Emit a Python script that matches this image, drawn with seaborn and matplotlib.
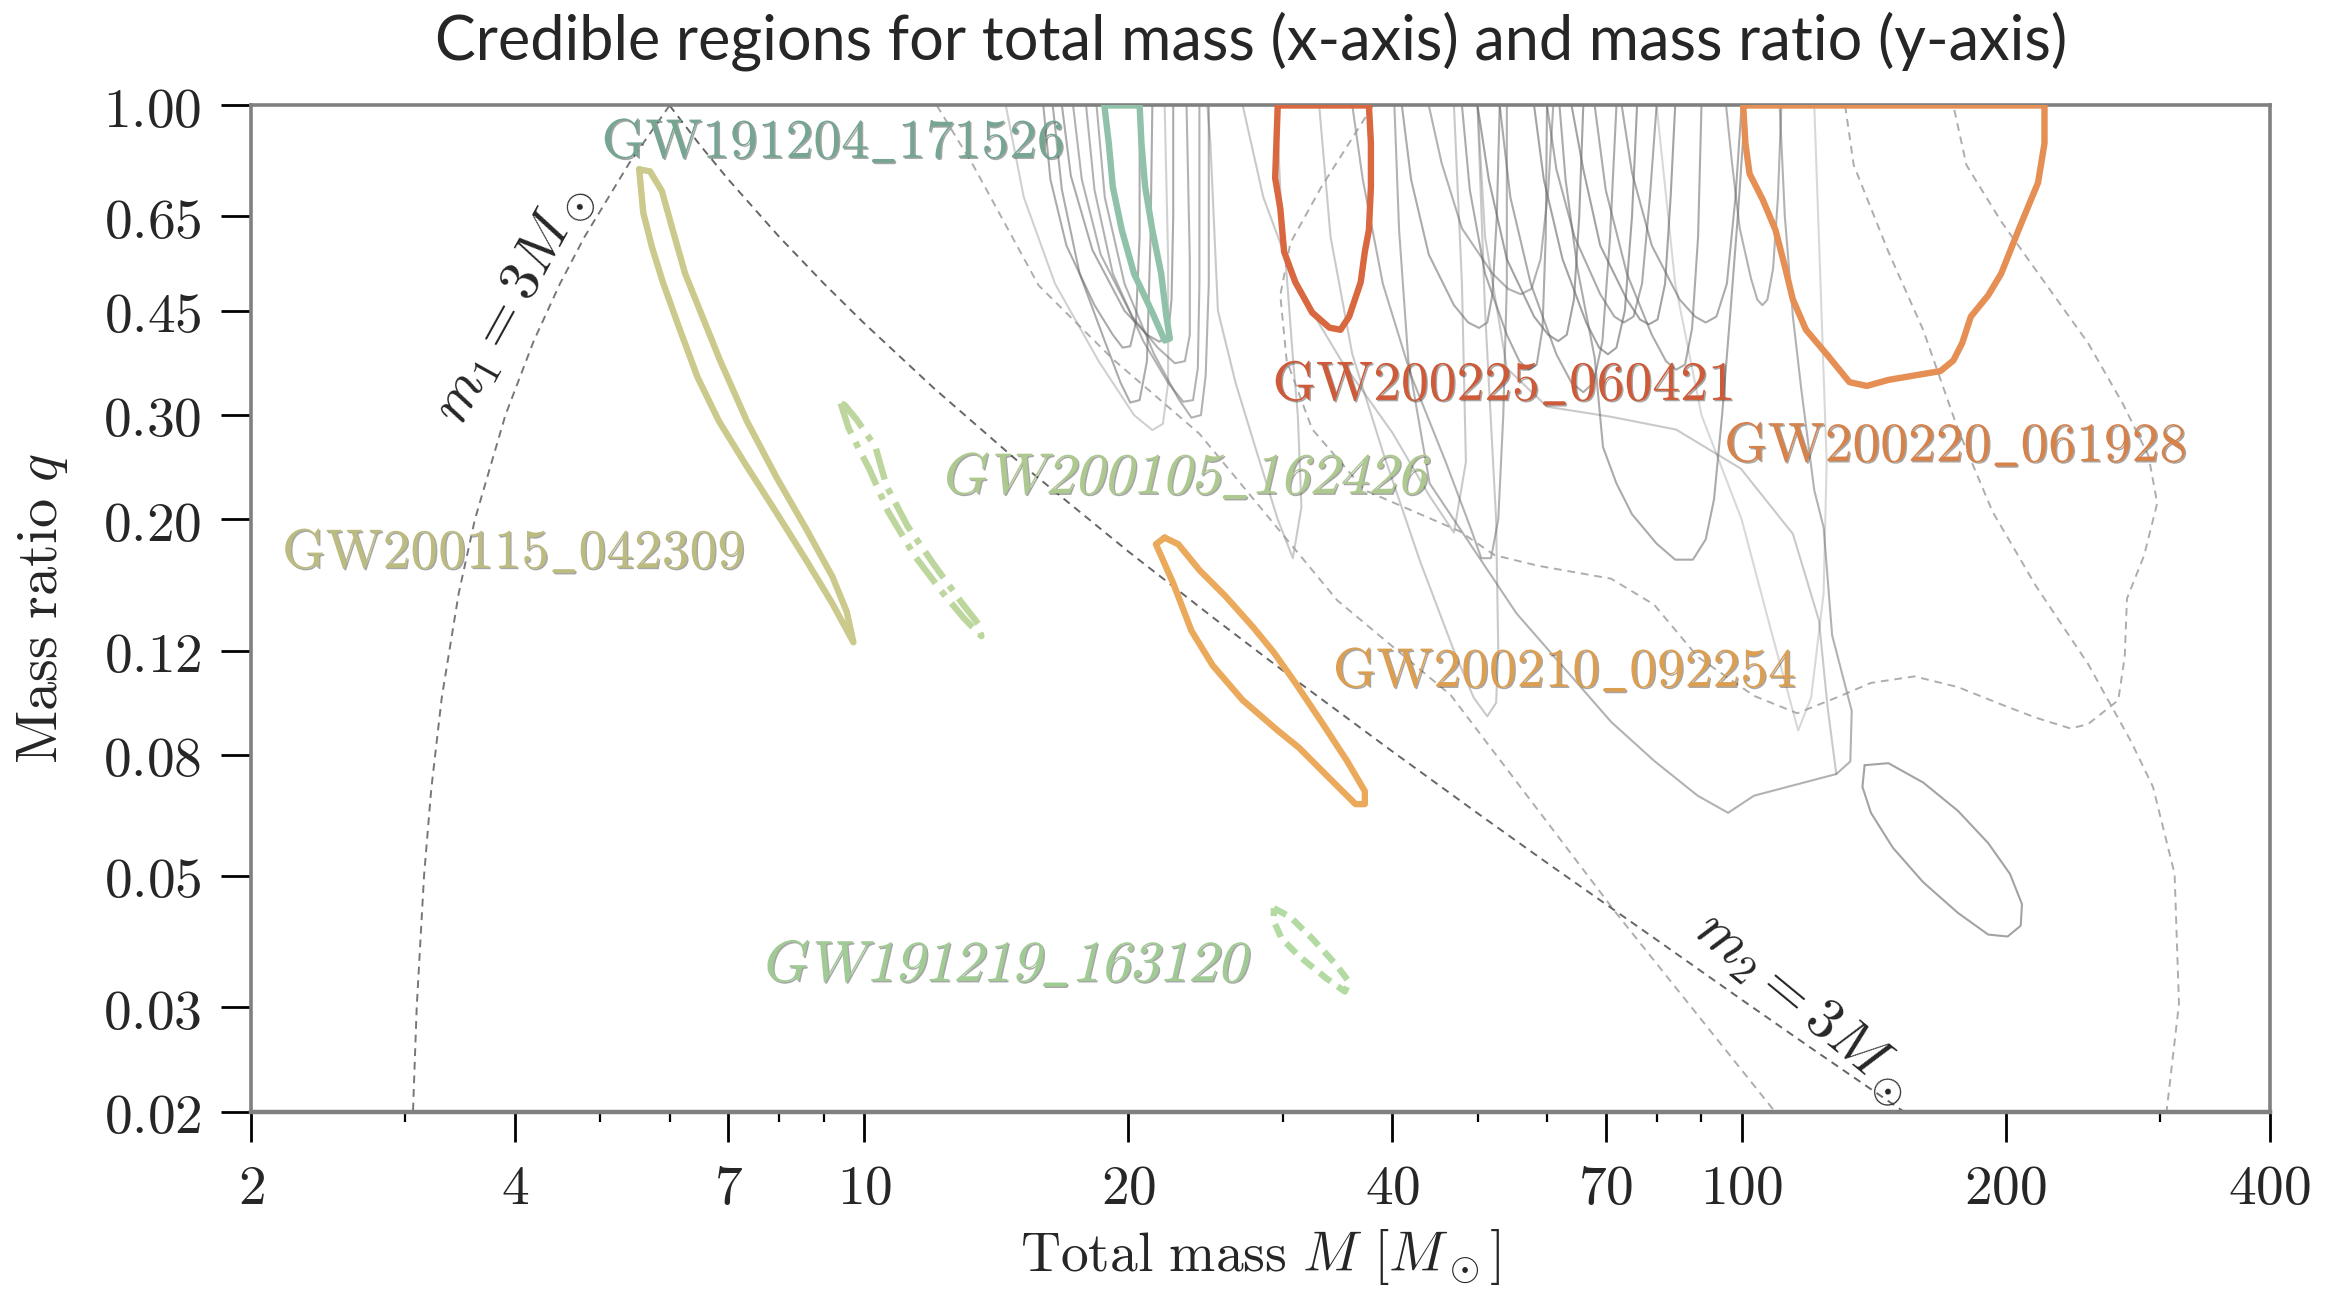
import matplotlib
matplotlib.use('Agg')
import matplotlib.pyplot as plt
import matplotlib.patheffects as pe
import matplotlib.transforms as mtransforms
from matplotlib.textpath import TextPath
from matplotlib.patches import PathPatch
from matplotlib.font_manager import FontProperties
from matplotlib.ticker import NullLocator
import seaborn as sns

# --- highlighted events: credible region outlines (total mass M, mass ratio q)
gw191204_M = [18.78, 19.0, 19.2, 19.66, 20.3, 21.3, 22.0, 22.3, 22.1, 21.8, 21.3, 20.9, 20.7, 20.6, 18.78]
gw191204_q = [1.0, 0.863, 0.729, 0.616, 0.520, 0.447, 0.401, 0.404, 0.440, 0.520, 0.616, 0.729, 0.863, 1.0, 1.0]

gw200115_M = [5.54, 5.60, 5.73, 5.895, 6.14, 6.46, 6.83, 7.32, 7.93, 8.58, 9.19, 9.72,
              9.55, 9.2, 8.6, 7.95, 7.35, 6.85, 6.45, 6.25, 6.05, 5.88, 5.7, 5.54]
gw200115_q = [0.780, 0.659, 0.576, 0.503, 0.425, 0.347, 0.293, 0.248, 0.206, 0.171, 0.1445, 0.124,
              0.1397, 0.160, 0.192, 0.235, 0.293, 0.371, 0.463, 0.520, 0.616, 0.717, 0.774, 0.780]

gw200105_M = [9.40, 9.6, 9.9, 10.13, 10.65, 11.4, 12.3, 13.0, 13.6, 13.5, 12.9, 12.0, 11.2, 10.6, 10.3, 9.8, 9.5, 9.40]
gw200105_q = [0.314, 0.285, 0.26, 0.2436, 0.206, 0.174, 0.150, 0.136, 0.127, 0.133, 0.145, 0.168, 0.195, 0.228, 0.265, 0.295, 0.312, 0.314]

gw191219_M = [29.3, 30.6, 32.4, 34.5, 35.7, 35.3, 33.6, 31.3, 29.9, 29.3, 29.3]
gw191219_q = [0.0441, 0.0426, 0.0392, 0.0354, 0.0331, 0.0319, 0.0336, 0.0366, 0.0392, 0.0419, 0.0441]

gw200210_M = [22.0, 21.5, 22.5, 23.6, 24.96, 27.0, 29.6, 31.3, 33.9, 36.3, 37.2, 37.2, 35.5, 33.2, 31.0, 29.3, 27.7, 25.8, 24.1, 22.8, 22.0]
gw200210_q = [0.1863, 0.1816, 0.156, 0.1297, 0.1133, 0.099, 0.088, 0.0823, 0.0731, 0.0661, 0.0661, 0.0695, 0.0782, 0.091, 0.1059, 0.1192, 0.1319, 0.1484, 0.1642, 0.1816, 0.1863]

gw200225_M = [29.6, 29.4, 29.8, 30.1, 31.0, 32.4, 33.9, 34.9, 35.7, 36.8, 37.2, 37.6, 37.8, 37.8, 37.6, 29.6]
gw200225_q = [1.0, 0.754, 0.670, 0.566, 0.503, 0.447, 0.4215, 0.418, 0.440, 0.503, 0.566, 0.616, 0.729, 0.863, 1.0, 1.0]

gw200220_M = [100.4, 101, 102.1, 105.7, 109.3, 111.9, 114.4, 118.4, 125.4, 132.7, 138.9, 147.0, 157.4, 168.5, 174.3,
              178.4, 182.5, 191.0, 197.6, 206.8, 217.7, 221.4, 221.4, 100.4]
gw200220_q = [1.0, 0.863, 0.767, 0.693, 0.616, 0.538, 0.470, 0.418, 0.378, 0.341, 0.336, 0.344, 0.350, 0.356, 0.371,
              0.397, 0.440, 0.478, 0.520, 0.616, 0.741, 0.863, 1.0, 1.0]

# --- other events (grey outlines)
u1_M = [16.0, 16.3, 17.0, 18.3, 19.2, 19.7, 20.1, 20.4, 20.6, 20.6]
u1_q = [1.0, 0.75, 0.58, 0.46, 0.41, 0.39, 0.392, 0.43, 0.6, 1.0]
u2_M = [16.4, 16.8, 17.6, 18.8, 19.6, 20.1, 20.6, 21.0, 21.2, 21.3]
u2_q = [1.0, 0.72, 0.52, 0.40, 0.34, 0.315, 0.318, 0.37, 0.6, 1.0]
u3_M = [17.3, 17.7, 18.6, 20.2, 21.6, 22.6, 23.2, 23.5, 23.5, 23.3]
u3_q = [1.0, 0.75, 0.56, 0.44, 0.39, 0.367, 0.37, 0.41, 0.55, 1.0]
u4_M = [17.9, 18.3, 19.2, 20.8, 22.2, 23.1, 23.7, 24.0, 24.1, 24.1]
u4_q = [1.0, 0.72, 0.52, 0.40, 0.34, 0.316, 0.318, 0.36, 0.5, 1.0]
u5_M = [18.4, 18.8, 19.8, 21.4, 22.8, 23.6, 24.2, 24.5, 24.7, 24.7]
u5_q = [1.0, 0.70, 0.50, 0.38, 0.32, 0.297, 0.30, 0.35, 0.5, 1.0]
u6_M = [16.8, 17.2, 18.2, 19.8, 21.0, 21.7, 22.2, 22.4, 22.5, 22.5]
u6_q = [1.0, 0.76, 0.57, 0.45, 0.41, 0.399, 0.41, 0.47, 0.65, 1.0]
u7_M = [24.6, 24.8, 25.3, 26.5, 27.9, 29.6, 30.8, 31.5, 31.2, 30.8, 29.8, 29.5]
u7_q = [1.0, 0.87, 0.45, 0.34, 0.265, 0.2, 0.172, 0.21, 0.3, 0.375, 0.72, 1.0]
u8_M = [14.5, 15.2, 16.5, 18.5, 20.3, 21.3, 21.9, 22.2, 22.2, 22.0]
u8_q = [1.0, 0.7, 0.5, 0.37, 0.30, 0.283, 0.29, 0.34, 0.55, 1.0]
r1_M = [27.0, 28.5, 31.0, 35.0, 40.0, 44.0, 47.0, 48.5, 48.0, 47.0]
r1_q = [1.0, 0.7, 0.5, 0.37, 0.28, 0.22, 0.19, 0.25, 0.5, 1.0]

m1_M = [41, 42, 44, 47, 48.8, 50.2, 51.3, 52, 52.6, 53]
m1_q = [1.0, 0.75, 0.56, 0.46, 0.43, 0.421, 0.43, 0.48, 0.65, 1.0]
m2_M = [48, 49, 51, 54, 55.8, 57.2, 58.4, 59.3, 59.8, 60]
m2_q = [1.0, 0.72, 0.52, 0.41, 0.37, 0.358, 0.365, 0.42, 0.6, 1.0]
m3_M = [50, 51.5, 54, 58, 60.2, 61.8, 63.2, 64.4, 65.3, 66]
m3_q = [1.0, 0.75, 0.55, 0.44, 0.41, 0.40, 0.41, 0.47, 0.65, 1.0]
m4_M = [53, 54.5, 57.5, 61.5, 64, 66, 67.8, 69.4, 70.8, 72]
m4_q = [1.0, 0.7, 0.5, 0.38, 0.34, 0.328, 0.34, 0.4, 0.6, 1.0]
m5_M = [58, 59.5, 62.5, 66.5, 68.8, 70.4, 72, 73.6, 75, 76]
m5_q = [1.0, 0.75, 0.55, 0.43, 0.39, 0.38, 0.39, 0.45, 0.65, 1.0]
m6_M = [60, 61.5, 64.5, 69, 71.6, 73.4, 75.3, 77, 78.6, 80]
m6_q = [1.0, 0.78, 0.6, 0.48, 0.44, 0.43, 0.44, 0.5, 0.7, 1.0]
m7_M = [64, 66, 69, 74, 76.6, 78.4, 80.2, 81.8, 83, 84]
m7_q = [1.0, 0.78, 0.58, 0.47, 0.435, 0.427, 0.435, 0.5, 0.7, 1.0]
m8_M = [68, 70, 74, 79, 82, 84.2, 86.2, 87.8, 89.2, 90]
m8_q = [1.0, 0.72, 0.52, 0.41, 0.37, 0.358, 0.365, 0.42, 0.6, 1.0]
m9_M = [73, 75, 79, 85, 88.5, 91, 93.6, 96.2, 98.4, 100]
m9_q = [1.0, 0.77, 0.58, 0.47, 0.44, 0.43, 0.44, 0.5, 0.7, 1.0]
m10_M = [96, 97.5, 99.5, 102.5, 104.2, 105.6, 107, 108.6, 110, 111]
m10_q = [1.0, 0.8, 0.62, 0.51, 0.47, 0.46, 0.47, 0.53, 0.7, 1.0]
m11_M = [44, 45.5, 48, 52, 54.2, 56, 57.6, 59, 60.2, 61]
m11_q = [1.0, 0.8, 0.62, 0.52, 0.49, 0.48, 0.49, 0.55, 0.72, 1.0]

t2_M = [36, 37, 39, 42, 46, 49, 50.5, 51.8, 52.8, 53.5, 54, 54]
t2_q = [1.0, 0.75, 0.5, 0.35, 0.25, 0.195, 0.172, 0.172, 0.2, 0.3, 0.5, 1.0]
t3_M = [62, 63, 65, 68, 69.5, 72, 75, 80, 84, 88, 91, 93, 95, 97, 99, 101]
t3_q = [1.0, 0.75, 0.53, 0.375, 0.265, 0.23, 0.204, 0.182, 0.171, 0.171, 0.185, 0.216, 0.3, 0.44, 0.65, 1.0]
t4_M = [33, 34, 36, 39, 43, 47, 49.5, 51.3, 52.5, 52.8, 52.5, 51, 50]
t4_q = [1.0, 0.6, 0.38, 0.26, 0.17, 0.12, 0.1, 0.093, 0.098, 0.12, 0.2, 0.45, 1.0]
b1_M = [40.2, 40.7, 41.7, 44.1, 55.4, 71.0, 79.5, 89.1, 96.5, 103.3, 128.2, 133, 133.5, 126.8, 124, 121, 117, 114.4, 112, 110.5]
b1_q = [1.0, 0.616, 0.371, 0.230, 0.1387, 0.091, 0.0782, 0.0683, 0.0639, 0.0683, 0.0743, 0.078, 0.095, 0.1275, 0.194, 0.224, 0.33, 0.44, 0.65, 1.0]
a1_M = [50, 51, 54, 60, 71, 84.2, 99.8, 114.4, 122.5, 125.3, 128.2]
a1_q = [1.0, 0.6, 0.36, 0.31, 0.298, 0.2836, 0.2436, 0.189, 0.135, 0.0964, 0.0743]
l2_M = [80, 84, 90, 100, 108, 116, 120, 124, 125, 123, 121]
l2_q = [1.0, 0.5, 0.3, 0.2, 0.13, 0.088, 0.1, 0.15, 0.25, 0.5, 1.0]
e1_M = [138.1, 147.0, 161.0, 176.4, 191.0, 202.2, 208.7, 208.0, 201.0, 191.0, 176.4, 161.0, 148.7, 140.4, 137.3, 138.1]
e1_q = [0.0769, 0.0775, 0.0719, 0.0644, 0.0568, 0.0504, 0.0448, 0.0412, 0.0395, 0.0398, 0.0433, 0.0488, 0.0558,
        0.0639, 0.0707, 0.0769]

# grey dashed outlines
d3_M = [12.1, 13.3, 15.8, 19.2, 24.1, 34.6, 46.6, 72.1, 109.1]
d3_q = [1.0, 0.794, 0.497, 0.373, 0.279, 0.146, 0.101, 0.0431, 0.02]
dbig_M = [131.2, 134.2, 147, 161, 176.4, 193.2, 216.4, 248.2, 278, 294.3, 311.5, 315.1, 305]
dbig_q = [1.0, 0.793, 0.566, 0.418, 0.284, 0.206, 0.1545, 0.114, 0.0842, 0.0707, 0.0504, 0.0304, 0.02]
dwavy_M = [38.0, 33.2, 30.6, 29.8, 30.3, 32.4, 37.2, 47.7, 52.3, 58.6, 71.0, 79.5, 89.1, 103.3, 115.7, 129.7, 140.4,
           157.4, 176.4, 197.6, 216.4, 237.1, 248.2, 268.7, 273.3, 274.9, 287.6, 297.6, 290.9, 271.8, 248.2, 221.4,
           197.6, 180.4, 174.3]
dwavy_q = [1.0, 0.729, 0.586, 0.478, 0.371, 0.284, 0.224, 0.191, 0.174, 0.167, 0.1588, 0.1435, 0.1172, 0.1007, 0.0941,
           0.1007, 0.1059, 0.1086, 0.1042, 0.0974, 0.0925, 0.0887, 0.0902, 0.099, 0.1172, 0.147, 0.174, 0.213, 0.256,
           0.314, 0.397, 0.503, 0.637, 0.793, 1.0]

# component-mass limits m1 = 3 and m2 = 3 solar masses
lim_m1_M = [6.0, 5.4, 4.8, 4.5, 4.2, 3.9, 3.6, 3.45, 3.3, 3.21, 3.15, 3.09, 3.06]
lim_m1_q = [1.0, 0.8, 0.6, 0.5, 0.4, 0.3, 0.2, 0.15, 0.1, 0.07, 0.05, 0.03, 0.02]
lim_m2_M = [6.0, 6.5, 7, 8, 9, 10, 12, 15, 20, 25, 30, 40, 50, 60, 80, 100, 120, 150, 153]
lim_m2_q = [1.0, 0.857, 0.75, 0.6, 0.5, 0.4286, 0.3333, 0.25, 0.1765, 0.1364, 0.1111, 0.0811, 0.0638, 0.0526,
            0.039, 0.0309, 0.0256, 0.0204, 0.02]

x_ticks = [2, 4, 7, 10, 20, 40, 70, 100, 200, 400]
x_minor = [3, 5, 6, 8, 9, 30, 50, 60, 80, 90, 300]
y_ticks = [0.02, 0.03, 0.05, 0.08, 0.12, 0.20, 0.30, 0.45, 0.65, 1.00]
y_tick_labels = ['0.02', '0.03', '0.05', '0.08', '0.12', '0.20', '0.30', '0.45', '0.65', '1.00']

sns.set_theme(style='ticks')
plt.rcParams['mathtext.fontset'] = 'cm'
plt.rcParams['font.family'] = ['DejaVu Serif']

fig = plt.figure(figsize=(11.65, 6.47), dpi=200)
ax = fig.add_axes([0.1077, 0.141, 0.8665, 0.7775])
ax.set_xscale('log')
ax.set_yscale('log')
ax.set_xlim(2, 400)
ax.set_ylim(0.02, 1.0)


def draw(M, q, color, lw, ls='-', alpha=1.0, z=2):
    sns.lineplot(x=M, y=q, sort=False, estimator=None, color=color, lw=lw,
                 linestyle=ls, alpha=alpha, ax=ax, zorder=z)


# grey solid outlines of the other events
for M, q, a in [(u1_M, u1_q, 0.55), (u2_M, u2_q, 0.55), (u3_M, u3_q, 0.5), (u4_M, u4_q, 0.5),
                (u5_M, u5_q, 0.5), (u6_M, u6_q, 0.55), (u7_M, u7_q, 0.35), (u8_M, u8_q, 0.3),
                (r1_M, r1_q, 0.35), (m1_M, m1_q, 0.55), (m2_M, m2_q, 0.55), (m3_M, m3_q, 0.6),
                (m4_M, m4_q, 0.55), (m5_M, m5_q, 0.6), (m6_M, m6_q, 0.55), (m7_M, m7_q, 0.6),
                (m8_M, m8_q, 0.55), (m9_M, m9_q, 0.55), (m10_M, m10_q, 0.5), (m11_M, m11_q, 0.5),
                (t2_M, t2_q, 0.5), (t3_M, t3_q, 0.55), (t4_M, t4_q, 0.35), (b1_M, b1_q, 0.5),
                (a1_M, a1_q, 0.35), (l2_M, l2_q, 0.25), (e1_M, e1_q, 0.6)]:
    draw(M, q, '#666666', 0.75, alpha=a)

for M, q in [(d3_M, d3_q), (dbig_M, dbig_q), (dwavy_M, dwavy_q)]:
    draw(M, q, '#999999', 0.7, ls=(0, (4, 3)), alpha=0.8)

draw(lim_m1_M, lim_m1_q, '#555555', 0.7, ls=(0, (4, 3)), alpha=0.8)
draw(lim_m2_M, lim_m2_q, '#555555', 0.7, ls=(0, (4, 3)), alpha=0.9)

# highlighted events
draw(gw191204_M, gw191204_q, '#8fc2a8', 2.3, z=3)
draw(gw200115_M, gw200115_q, '#cbca8c', 2.3, z=3)
draw(gw200105_M, gw200105_q, '#bdd69e', 2.3, ls=(0, (5, 1.5, 1, 1.5)), z=3)
draw(gw191219_M, gw191219_q, '#b4daa3', 2.3, ls=(0, (2.2, 1.3)), z=3)
draw(gw200210_M, gw200210_q, '#eaa95b', 2.3, z=3)
draw(gw200225_M, gw200225_q, '#d9673f', 2.3, z=3)
draw(gw200220_M, gw200220_q, '#e58f55', 2.3, z=3)

shadow = [pe.SimplePatchShadow(offset=(0.5, -0.5), shadow_rgbFace='#222222', alpha=0.4), pe.Normal()]

upright_labels = [
    (5.02, 0.866, r'$\mathrm{GW191204\_171526}$', '#76a592'),
    (2.17, 0.1757, r'$\mathrm{GW200115\_042309}$', '#bcbb80'),
    (29.2, 0.3375, r'$\mathrm{GW200225\_060421}$', '#cd5a38'),
    (95.5, 0.266, r'$\mathrm{GW200220\_061928}$', '#d6824b'),
    (34.2, 0.1107, r'$\mathrm{GW200210\_092254}$', '#dc9f52'),
]
for x, y, s, c in upright_labels:
    ax.text(x, y, s, color=c, fontsize=20, ha='left', va='center', path_effects=shadow, zorder=4)

# slanted (italic) labels: glyph outlines sheared like a text italic
slanted_labels = [
    (12.32, 0.237, r'$\mathrm{GW200105\_162426}$', '#adc98f'),
    (7.69, 0.0356, r'$\mathrm{GW191219\_163120}$', '#a1cb95'),
]
for x, y, s, c in slanted_labels:
    tp = TextPath((0, 0), s, size=21, prop=FontProperties(math_fontfamily='cm'))
    ext = tp.get_extents()
    tr = (mtransforms.Affine2D().translate(0, -(ext.y0 + ext.y1) / 2).skew_deg(13, 0).scale(fig.dpi / 72)
          + mtransforms.ScaledTranslation(x, y, ax.transData))
    patch = PathPatch(tp, transform=tr, facecolor=c, edgecolor='none', path_effects=shadow, zorder=4)
    ax.add_artist(patch)

ax.text(3.98, 0.461, r'$m_1 = 3M_\odot$', fontsize=21, rotation=61, ha='center', va='center')
ax.text(117.5, 0.030, r'$m_2 = 3M_\odot$', fontsize=21, rotation=-39.5, ha='center', va='center')

ax.set_xticks(x_ticks, labels=['$%d$' % v for v in x_ticks])
ax.set_xticks(x_minor, minor=True)
ax.xaxis.set_minor_formatter(plt.NullFormatter())
ax.set_yticks(y_ticks, labels=['$%s$' % s for s in y_tick_labels])
ax.yaxis.set_minor_locator(NullLocator())
ax.set_xlim(2, 400)
ax.set_ylim(0.02, 1.0)
ax.tick_params(which='major', direction='out', length=10.8, width=1.0, labelsize=20, color='black')
ax.tick_params(axis='x', which='major', pad=7)
ax.tick_params(axis='y', which='major', pad=7)
ax.tick_params(axis='x', which='minor', direction='out', length=3.5, width=0.8, color='black')

for side in ['left', 'right', 'top', 'bottom']:
    ax.spines[side].set_color('#808080')
    ax.spines[side].set_linewidth(1.3)
ax.spines['bottom'].set_linewidth(1.6)

ax.set_xlabel(r'$\mathrm{Total\ mass}\ M\ [M_\odot]$', fontsize=20, labelpad=4)
ax.set_ylabel(r'$\mathrm{Mass\ ratio}\ q$', fontsize=21, labelpad=12)
fig.text(0.537, 0.968, 'Credible regions for total mass (x-axis) and mass ratio (y-axis)',
         fontfamily='Lato', fontsize=22, ha='center', va='center')

fig.savefig('out.png', dpi=200, facecolor='white')
plt.close()
